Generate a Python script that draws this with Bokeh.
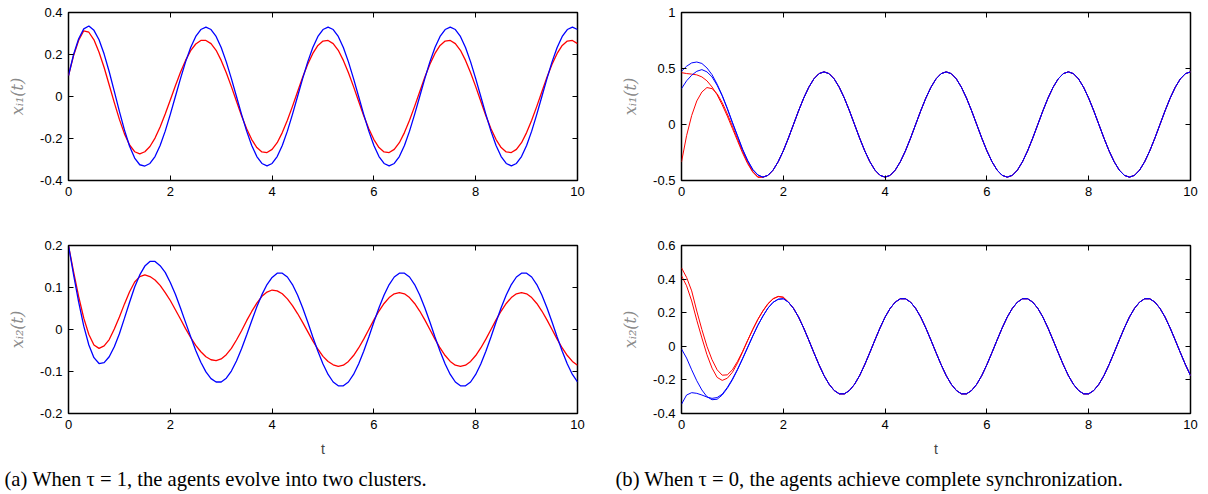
from bokeh.plotting import figure
from bokeh.models import Range1d, LinearAxis, FixedTicker, NumeralTickFormatter, CustomLabelingPolicy
from bokeh.layouts import column, row
from bokeh.embed import file_html
from bokeh.resources import INLINE
from bokeh.core.properties import value

# ---------------- data ----------------
t = [i / 10 for i in range(101)]          # time grid 0.0 ... 10.0
x_ticks = [0, 2, 4, 6, 8, 10]

# (a) tau = 1, first state
a1_blue = [0.100, 0.200, 0.275, 0.322, 0.336, 0.315, 0.270, 0.202, 0.118, 0.024,
           -0.071, -0.160, -0.237, -0.293, -0.325, -0.331,
           -0.319, -0.286, -0.233, -0.165, -0.085, 0.0, 0.085, 0.165, 0.233, 0.286, 0.319,
           0.330, 0.319, 0.286, 0.233, 0.165, 0.085, 0.0, -0.085, -0.165, -0.233, -0.286, -0.319,
           -0.330, -0.319, -0.286, -0.233, -0.165, -0.085, 0.0, 0.085, 0.165, 0.233, 0.286, 0.319,
           0.330, 0.319, 0.286, 0.233, 0.165, 0.085, 0.0, -0.085, -0.165, -0.233, -0.286, -0.319,
           -0.330, -0.319, -0.286, -0.233, -0.165, -0.085, 0.0, 0.085, 0.165, 0.233, 0.286, 0.319,
           0.330, 0.319, 0.286, 0.233, 0.165, 0.085, 0.0, -0.085, -0.165, -0.233, -0.286, -0.319,
           -0.330, -0.319, -0.286, -0.233, -0.165, -0.085, 0.0, 0.085, 0.165, 0.233, 0.286, 0.319,
           0.330, 0.319]
a1_red = [0.100, 0.195, 0.268, 0.313, 0.306, 0.270, 0.211, 0.138, 0.055, -0.029,
          -0.109, -0.178, -0.231, -0.263, -0.273,
          -0.263, -0.238, -0.198, -0.145, -0.083, -0.017, 0.051, 0.115, 0.172, 0.218, 0.250, 0.267,
          0.267, 0.252, 0.220, 0.172, 0.113, 0.047, -0.023, -0.092, -0.154, -0.205, -0.243, -0.264,
          -0.267, -0.252, -0.220, -0.172, -0.113, -0.047, 0.023, 0.092, 0.154, 0.205, 0.243, 0.264,
          0.267, 0.252, 0.220, 0.172, 0.113, 0.047, -0.023, -0.092, -0.154, -0.205, -0.243, -0.264,
          -0.267, -0.252, -0.220, -0.172, -0.113, -0.047, 0.023, 0.092, 0.154, 0.205, 0.243, 0.264,
          0.267, 0.252, 0.220, 0.172, 0.113, 0.047, -0.023, -0.092, -0.154, -0.205, -0.243, -0.264,
          -0.267, -0.252, -0.220, -0.172, -0.113, -0.047, 0.023, 0.092, 0.154, 0.205, 0.243, 0.264,
          0.267, 0.252]

# (a) tau = 1, second state
a2_blue = [0.200, 0.130, 0.065, 0.008, -0.037, -0.067, -0.081,
           -0.079, -0.065, -0.041, -0.010, 0.027, 0.065, 0.101, 0.130, 0.151, 0.162,
           0.162, 0.152, 0.136, 0.112, 0.084, 0.051, 0.017, -0.017, -0.050, -0.078, -0.101, -0.117, -0.125,
           -0.125, -0.116, -0.099, -0.075, -0.046, -0.013, 0.021, 0.054, 0.083, 0.107, 0.124,
           0.134, 0.134, 0.125, 0.107, 0.082, 0.052, 0.018, -0.018, -0.052, -0.082, -0.107, -0.125,
           -0.134, -0.134, -0.125, -0.107, -0.082, -0.052, -0.018, 0.018, 0.052, 0.082, 0.107, 0.125,
           0.134, 0.134, 0.125, 0.107, 0.082, 0.052, 0.018, -0.018, -0.052, -0.082, -0.107, -0.125,
           -0.134, -0.134, -0.125, -0.107, -0.082, -0.052, -0.018, 0.018, 0.052, 0.082, 0.107, 0.125,
           0.134, 0.134, 0.125, 0.107, 0.082, 0.052, 0.018, -0.018, -0.052, -0.082, -0.107, -0.125]
a2_red = [0.200, 0.137, 0.078, 0.027, -0.012, -0.037, -0.045,
          -0.039, -0.024, 0.001, 0.030, 0.061, 0.090, 0.113, 0.126,
          0.130, 0.126, 0.118, 0.105, 0.088, 0.069, 0.047, 0.025, 0.002, -0.019, -0.038, -0.053, -0.065, -0.072, -0.074,
          -0.070, -0.060, -0.045, -0.025, -0.003, 0.021, 0.043, 0.063, 0.079, 0.089, 0.094,
          0.092, 0.085, 0.073, 0.057, 0.038, 0.017, -0.005, -0.027, -0.047, -0.064, -0.076, -0.084,
          -0.088, -0.085, -0.076, -0.062, -0.044, -0.023, 0.0, 0.023, 0.044, 0.062, 0.076, 0.085,
          0.088, 0.085, 0.076, 0.062, 0.044, 0.023, 0.0, -0.023, -0.044, -0.062, -0.076, -0.085,
          -0.088, -0.085, -0.076, -0.062, -0.044, -0.023, 0.0, 0.023, 0.044, 0.062, 0.076, 0.085,
          0.088, 0.085, 0.076, 0.062, 0.044, 0.023, 0.0, -0.023, -0.044, -0.062, -0.076, -0.085]

# (b) tau = 0, first state: individual starts (t = 0.0 .. 1.5) and the common synchronized path (t = 1.6 .. 10)
b1_blue_1 = [0.475, 0.520, 0.550, 0.558, 0.545, 0.505, 0.445, 0.360, 0.260, 0.145, 0.020, -0.100, -0.220, -0.320, -0.400, -0.450]
b1_blue_2 = [0.320, 0.390, 0.440, 0.475, 0.490, 0.470, 0.425, 0.350, 0.255, 0.140, 0.015, -0.105, -0.225, -0.325, -0.405, -0.452]
b1_red_1 = [0.463, 0.455, 0.450, 0.443, 0.425, 0.390, 0.335, 0.265, 0.175, 0.075, -0.035, -0.145, -0.255, -0.350, -0.425, -0.472]
b1_red_2 = [-0.335, -0.100, 0.080, 0.210, 0.290, 0.330, 0.320, 0.275, 0.195, 0.095, -0.015, -0.130, -0.240, -0.340, -0.420, -0.468]
b1_sync = [-0.470, -0.454, -0.407, -0.332, -0.235, -0.122, 0.0, 0.122, 0.235, 0.332, 0.407, 0.454,
           0.470, 0.454, 0.407, 0.332, 0.235, 0.122, 0.0, -0.122, -0.235, -0.332, -0.407, -0.454,
           -0.470, -0.454, -0.407, -0.332, -0.235, -0.122, 0.0, 0.122, 0.235, 0.332, 0.407, 0.454,
           0.470, 0.454, 0.407, 0.332, 0.235, 0.122, 0.0, -0.122, -0.235, -0.332, -0.407, -0.454,
           -0.470, -0.454, -0.407, -0.332, -0.235, -0.122, 0.0, 0.122, 0.235, 0.332, 0.407, 0.454,
           0.470, 0.454, 0.407, 0.332, 0.235, 0.122, 0.0, -0.122, -0.235, -0.332, -0.407, -0.454,
           -0.470, -0.454, -0.407, -0.332, -0.235, -0.122, 0.0, 0.122, 0.235, 0.332, 0.407, 0.454,
           0.470]

# (b) tau = 0, second state: individual starts (t = 0.0 .. 2.0) and the common path (t = 2.1 .. 10)
b2_red_1 = [0.467, 0.410, 0.330, 0.210, 0.100, 0.000, -0.080, -0.140, -0.172, -0.170, -0.140,
            -0.090, -0.030, 0.035, 0.100, 0.160, 0.210, 0.252, 0.282, 0.296, 0.292]
b2_red_2 = [0.420, 0.360, 0.270, 0.155, 0.050, -0.050, -0.130, -0.185, -0.203, -0.190, -0.155,
            -0.100, -0.035, 0.035, 0.100, 0.160, 0.212, 0.255, 0.284, 0.297, 0.292]
b2_blue_1 = [-0.016, -0.070, -0.140, -0.205, -0.260, -0.300, -0.318, -0.315, -0.290, -0.250, -0.200,
             -0.140, -0.075, -0.008, 0.060, 0.125, 0.180, 0.228, 0.262, 0.280, 0.283]
b2_blue_2 = [-0.345, -0.290, -0.276, -0.280, -0.290, -0.302, -0.310, -0.305, -0.285, -0.245, -0.195,
             -0.137, -0.072, -0.005, 0.062, 0.125, 0.180, 0.228, 0.262, 0.280, 0.283]
b2_sync = [0.263, 0.226, 0.174, 0.109, 0.037, -0.037, -0.109, -0.174, -0.226, -0.263, -0.283,
           -0.283, -0.263, -0.226, -0.174, -0.109, -0.037, 0.037, 0.109, 0.174, 0.226, 0.263,
           0.283, 0.283, 0.263, 0.226, 0.174, 0.109, 0.037, -0.037, -0.109, -0.174, -0.226, -0.263,
           -0.283, -0.283, -0.263, -0.226, -0.174, -0.109, -0.037, 0.037, 0.109, 0.174, 0.226, 0.263,
           0.283, 0.283, 0.263, 0.226, 0.174, 0.109, 0.037, -0.037, -0.109, -0.174, -0.226, -0.263,
           -0.283, -0.283, -0.263, -0.226, -0.174, -0.109, -0.037, 0.037, 0.109, 0.174, 0.226, 0.263,
           0.283, 0.283, 0.263, 0.226, 0.174, 0.109, 0.037, -0.037, -0.109, -0.174]

a1_yticks = [-0.4, -0.2, 0, 0.2, 0.4]
a2_yticks = [-0.2, -0.1, 0, 0.1, 0.2]
b1_yticks = [-0.5, 0, 0.5, 1]
b2_yticks = [-0.4, -0.2, 0, 0.2, 0.4, 0.6]

caption_a = "(a) When \u03c4 = 1, the agents evolve into two clusters."
caption_b = "(b) When \u03c4 = 0, the agents achieve complete synchronization."

for name, arr, n in [("a1_blue", a1_blue, 101), ("a1_red", a1_red, 101), ("a2_blue", a2_blue, 101),
                     ("a2_red", a2_red, 101), ("b1_sync", b1_sync, 85), ("b2_sync", b2_sync, 80)]:
    assert len(arr) == n, (name, len(arr))

BLUE = "#0000ff"
RED = "#ff0000"
TICK_FONT = "Liberation Sans"


def tick_only_axis(ticks):
    # mirrored (MATLAB style) ticks with no labels at all, taking no room
    return LinearAxis(ticker=FixedTicker(ticks=ticks),
                      major_label_policy=CustomLabelingPolicy(code="return new Set()"),
                      major_label_text_font_size="0px",
                      major_tick_in=5, major_tick_out=0, minor_tick_line_color=None,
                      axis_line_color=None, major_label_standoff=0)


def panel(width, height, bl, br, bt, bb, ylo, yhi, yticks, ylabel, xlabel=None):
    p = figure(width=width, height=height, x_range=Range1d(0, 10), y_range=Range1d(ylo, yhi),
               output_backend="svg", toolbar_location=None, tools="",
               min_border_left=bl, min_border_right=br, min_border_top=bt, min_border_bottom=bb)
    p.xgrid.visible = False
    p.ygrid.visible = False
    p.outline_line_color = "black"
    p.outline_line_width = 1.5
    p.outline_line_alpha = 1.0
    p.xaxis.ticker = FixedTicker(ticks=x_ticks)
    p.yaxis.ticker = FixedTicker(ticks=yticks)
    for ax in (p.xaxis[0], p.yaxis[0]):
        ax.formatter = NumeralTickFormatter(format="0.[0]")
        ax.major_tick_in = 5
        ax.major_tick_out = 0
        ax.major_tick_line_color = "black"
        ax.minor_tick_line_color = None
        ax.axis_line_color = None
        ax.major_label_text_font = TICK_FONT
        ax.major_label_text_font_size = "13px"
        ax.major_label_text_color = "black"
    p.yaxis.major_label_standoff = 6
    p.xaxis.major_label_standoff = 6
    p.yaxis.axis_label = ylabel
    p.yaxis.axis_label_text_font = "DejaVu Serif"
    p.yaxis.axis_label_text_font_style = "italic"
    p.yaxis.axis_label_text_font_size = "16px"
    p.yaxis.axis_label_text_color = "#8a8a8a"
    p.yaxis.axis_label_standoff = 10
    if xlabel:
        p.xaxis.axis_label = xlabel
        p.xaxis.axis_label_text_font = TICK_FONT
        p.xaxis.axis_label_text_font_style = "normal"
        p.xaxis.axis_label_text_font_size = "14px"
        p.xaxis.axis_label_standoff = 9
    p.add_layout(tick_only_axis(x_ticks), "above")
    p.add_layout(tick_only_axis(yticks), "right")
    return p


LW = 1.3

# top-left
p_a1 = panel(607, 235, 68, 30, 12, 55, -0.4, 0.4, a1_yticks, "x\u1d62\u2081(t)")
p_a1.line(t, a1_red, line_color=RED, line_width=LW)
p_a1.line(t, a1_blue, line_color=BLUE, line_width=LW)

# top-right
p_b1 = panel(601, 235, 74, 18, 12, 55, -0.5, 1.0, b1_yticks, "x\u1d62\u2081(t)")
for early in (b1_red_1, b1_red_2):
    p_b1.line(t, early + b1_sync, line_color=RED, line_width=1.0)
for early in (b1_blue_1, b1_blue_2):
    p_b1.line(t, early + b1_sync, line_color=BLUE, line_width=1.0)

# bottom-left
p_a2 = panel(607, 232, 68, 30, 10, 54, -0.2, 0.2, a2_yticks, "x\u1d62\u2082(t)", "t")
p_a2.line(t, a2_red, line_color=RED, line_width=LW)
p_a2.line(t, a2_blue, line_color=BLUE, line_width=LW)

# bottom-right
p_b2 = panel(601, 232, 74, 18, 10, 54, -0.4, 0.6, b2_yticks, "x\u1d62\u2082(t)", "t")
for early in (b2_red_1, b2_red_2):
    p_b2.line(t, early + b2_sync, line_color=RED, line_width=1.0)
for early in (b2_blue_1, b2_blue_2):
    p_b2.line(t, early + b2_sync, line_color=BLUE, line_width=1.0)

# captions
cap = figure(width=1208, height=27, x_range=Range1d(0, 1208), y_range=Range1d(0, 27),
             output_backend="svg", toolbar_location=None, tools="",
             x_axis_type=None, y_axis_type=None, min_border=0)
cap.outline_line_color = None
cap.xgrid.visible = False
cap.ygrid.visible = False
cap.text(x=[4, 615], y=[16, 16], text=[caption_a, caption_b],
         text_font=value("Liberation Serif"), text_font_size="20.6px",
         text_baseline="middle", text_align="left", text_color="black")

layout = column(row(p_a1, p_b1), row(p_a2, p_b2), cap)
open("out.html", "w").write(file_html(layout, INLINE))
